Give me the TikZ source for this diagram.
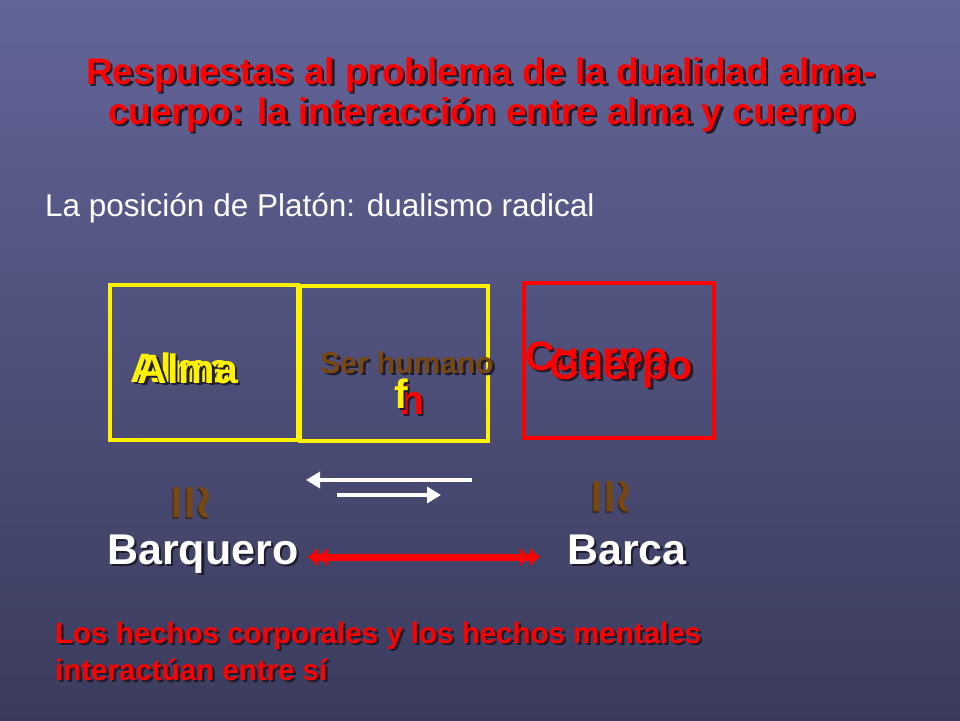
\documentclass[tikz,border=0pt]{standalone}
\usepackage{fontspec}
\setmainfont{Liberation Sans}
\newfontfamily\symfont{DejaVu Sans}
\usepackage{graphicx}
\usetikzlibrary{positioning,calc,arrows.meta}

\definecolor{bgtop}{RGB}{98,101,152}
\definecolor{bgbot}{RGB}{58,59,92}
\definecolor{shadowcol}{RGB}{30,28,45}
\definecolor{brownish}{RGB}{120,72,18}
\definecolor{slidered}{RGB}{255,0,0}

\tikzset{
  txt/.style={inner sep=0pt, anchor=base},
  titletext/.style={txt, anchor=base, font=\bfseries\fontsize{37}{42}\selectfont},
  bigtext/.style={txt, font=\bfseries\fontsize{41}{46}\selectfont},
  bottomtext/.style={txt, anchor=base west, font=\bfseries\fontsize{29.5}{34}\selectfont},
  shadow/.style={text=shadowcol, xshift=2.5pt, yshift=-2.5pt},
  framebox/.style={draw, line width=4pt, minimum width=#1, minimum height=155pt, inner sep=0pt},
  isosym/.style={inner sep=0pt, text=brownish, rotate=-90, font=\symfont\fontsize{48}{48}\selectfont},
  whitearrow/.style={draw=white, line width=4pt, -{Triangle[length=14pt,width=16pt]}},
}

\begin{document}
\begin{tikzpicture}[x=1pt, y=-1pt]
  % background
  \useasboundingbox (0,0) rectangle (960,720);
  \shade[top color=bgtop, bottom color=bgbot] (0,0) rectangle (960,720);
  %%
  % Node: title
  \node[titletext, shadow] at (481,84) {Respuestas al problema de la dualidad alma-};
  \node[titletext, text=slidered] (title1) at (481,84) {Respuestas al problema de la dualidad alma-};
  \node[titletext, shadow] at (482,124) {cuerpo: la interacción entre alma y cuerpo};
  \node[titletext, text=slidered] (title2) at (482,124) {cuerpo: la interacción entre alma y cuerpo};
  % Node: subtitle
  \node[txt, anchor=base west, text=white, font=\fontsize{31.5}{36}\selectfont] (sub) at (45,216) {La posición de Platón: dualismo radical};
  %%
  % Node: boxes
  \node[framebox=188pt, draw=yellow] (almabox) at (204,362) {};
  \node[framebox=188pt, draw=yellow] (humanobox) at (394,363) {};
  \node[framebox=190pt, draw=slidered] (cuerpobox) at (619,360) {};
  % Node: Alma
  \node[bigtext, shadow] at (181,382) {Alma};
  \node[bigtext, text=yellow] at (181,382) {Alma};
  \node[bigtext, shadow] at (188,383) {Alma};
  \node[bigtext, text=yellow] (alma) at (188,383) {Alma};
  % Node: Ser humano
  \node[txt, shadow, font=\bfseries\fontsize{30}{34}\selectfont] at (407,373) {Ser humano};
  \node[txt, text=brownish, font=\bfseries\fontsize{30}{34}\selectfont] (humano) at (407,373) {Ser humano};
  \node[bigtext, shadow] at (412,414) {h};
  \node[bigtext, text=slidered] (hh) at (412,414) {h};
  \node[bigtext, shadow] at (401,408) {f};
  \node[bigtext, text=yellow] (ff) at (401,408) {f};
  % Node: Cuerpo
  \node[bigtext, shadow] at (597,370) {Cuerpo};
  \node[bigtext, text=slidered] at (597,370) {Cuerpo};
  \node[bigtext, shadow] at (621,379) {Cuerpo};
  \node[bigtext, text=slidered] (cuerpo) at (621,379) {Cuerpo};
  %%
  % Node: equivalences
  \node[isosym, text=shadowcol!70!brownish, xshift=1.5pt, yshift=-1.5pt] at (189,503) {\scalebox{1}[1.5]{≅}};
  \node[isosym] (isoA) at (189,503) {\scalebox{1}[1.5]{≅}};
  \node[isosym, text=shadowcol!70!brownish, xshift=1.5pt, yshift=-1.5pt] at (609,497) {\scalebox{1}[1.5]{≅}};
  \node[isosym] (isoB) at (609,497) {\scalebox{1}[1.5]{≅}};
  % Node: Barquero, Barca
  \node[bigtext, font=\bfseries\fontsize{43}{48}\selectfont, shadow, anchor=base west] at (107,564) {Barquero};
  \node[bigtext, font=\bfseries\fontsize{43}{48}\selectfont, text=white, anchor=base west] (barquero) at (107,564) {Barquero};
  \node[bigtext, font=\bfseries\fontsize{43}{48}\selectfont, shadow, anchor=base west] at (567,564) {Barca};
  \node[bigtext, font=\bfseries\fontsize{43}{48}\selectfont, text=white, anchor=base west] (barca) at (567,564) {Barca};
  %%
  % Edge: white arrows
  \coordinate (upR) at (472,480);
  \coordinate (upL) at (306,480);
  \coordinate (dnL) at (337,495);
  \coordinate (dnR) at (441,495);
  \draw[whitearrow] (upR) -- (upL);
  \draw[whitearrow] (dnL) -- (dnR);
  % Edge: barquero <-> barca
  \draw[draw=slidered, line width=7pt,
        {Latex[length=10pt,width=20pt]Latex[length=10pt,width=20pt]}-{Latex[length=10pt,width=20pt]Latex[length=10pt,width=20pt]},
        shorten <=9pt, shorten >=27pt]
    (barquero.east |- 0,557) -- (barca.west |- 0,557);
  %%
  % Node: conclusion
  \node[bottomtext, shadow] at (55,643) {Los hechos corporales y los hechos mentales};
  \node[bottomtext, text=slidered] (concl1) at (55,643) {Los hechos corporales y los hechos mentales};
  \node[bottomtext, shadow] at (55,680) {interactúan entre sí};
  \node[bottomtext, text=slidered] (concl2) at (55,680) {interactúan entre sí};
\end{tikzpicture}
\end{document}
